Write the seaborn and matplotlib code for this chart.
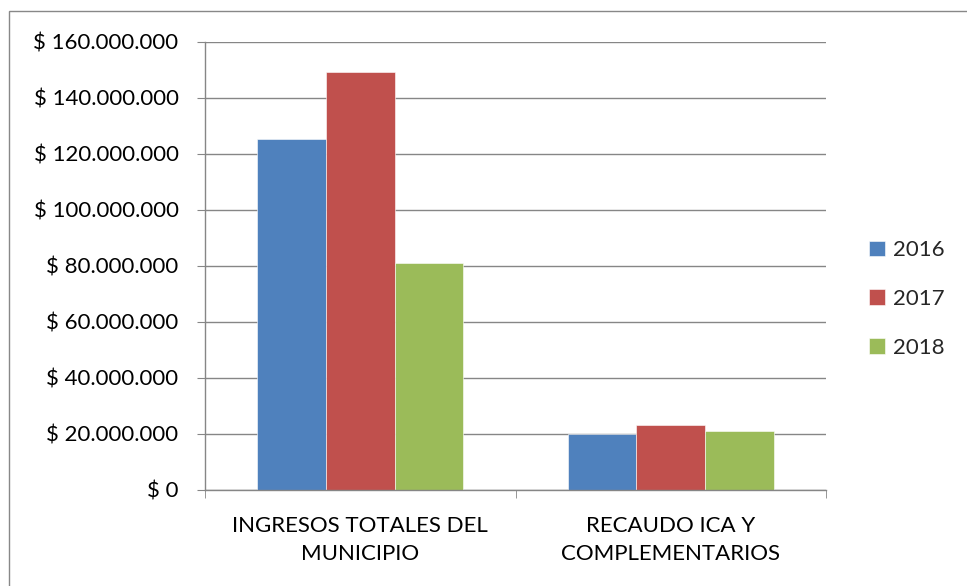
import matplotlib.pyplot as plt
import matplotlib.ticker as mticker
import pandas as pd
import seaborn as sns
from matplotlib.patches import Rectangle

# Data
categories = ["INGRESOS TOTALES DEL\nMUNICIPIO", "RECAUDO ICA Y\nCOMPLEMENTARIOS"]
years = ["2016", "2017", "2018"]
values_2016 = [125_300_000, 20_100_000]
values_2017 = [149_400_000, 23_300_000]
values_2018 = [81_100_000, 21_000_000]
colors = ["#4F81BD", "#C0504D", "#9BBB59"]

rows = []
for year, vals in zip(years, [values_2016, values_2017, values_2018]):
    for cat, v in zip(categories, vals):
        rows.append({"categoria": cat, "year": year, "valor": v})
df = pd.DataFrame(rows)

sns.set_style("white")
plt.rcParams["font.family"] = ["Lato", "DejaVu Sans"]

fig = plt.figure(figsize=(9.67, 5.86), dpi=100)
ax = fig.add_axes([205 / 967, 1 - 490 / 586, 621 / 967, 448 / 586])

sns.barplot(
    data=df,
    x="categoria",
    y="valor",
    hue="year",
    palette=colors,
    saturation=1,
    width=0.665,
    gap=0,
    edgecolor="white",
    linewidth=0.4,
    ax=ax,
)

grid_color = "#868686"
fs = 16
ax.set_ylim(0, 160_000_000)
ax.set_xlim(-0.5, 1.5)
ax.yaxis.set_major_locator(mticker.MultipleLocator(20_000_000))
ax.yaxis.set_major_formatter(
    mticker.FuncFormatter(lambda v, p: "$ " + f"{v:,.0f}".replace(",", "."))
)
ax.grid(axis="y", color=grid_color, linewidth=1)
ax.set_axisbelow(True)

for side in ["top", "right"]:
    ax.spines[side].set_visible(False)
for side in ["left", "bottom"]:
    ax.spines[side].set_color(grid_color)
    ax.spines[side].set_linewidth(1)

ax.set_xlabel("")
ax.set_ylabel("")
ax.tick_params(axis="y", left=True, length=6, color=grid_color, labelsize=fs,
               pad=13, labelcolor="black")
ax.tick_params(axis="x", bottom=False, labelsize=fs, pad=15, labelcolor="black")
ax.set_xticks([0, 1])
ax.set_xticklabels(categories, linespacing=1.5)
# boundary ticks between categories on the x axis
ax.set_xticks([-0.5, 0.5, 1.5], minor=True)
ax.tick_params(axis="x", which="minor", bottom=True, length=6, color=grid_color)

handles, labels = ax.get_legend_handles_labels()
ax.legend(
    handles, labels,
    loc="center left",
    bbox_to_anchor=(849 / 967, 1 - 299 / 586),
    bbox_transform=fig.transFigure,
    frameon=False,
    fontsize=fs,
    handlelength=0.7,
    handleheight=0.7,
    handletextpad=0.4,
    labelspacing=1.3,
)

# outer chart border
fig.patches.append(
    Rectangle((9 / 967, -0.05), 1.0, 1 - 11 / 586 + 0.05, transform=fig.transFigure,
              fill=False, edgecolor="#888888", linewidth=1)
)

fig.savefig("out.png", dpi=100)
